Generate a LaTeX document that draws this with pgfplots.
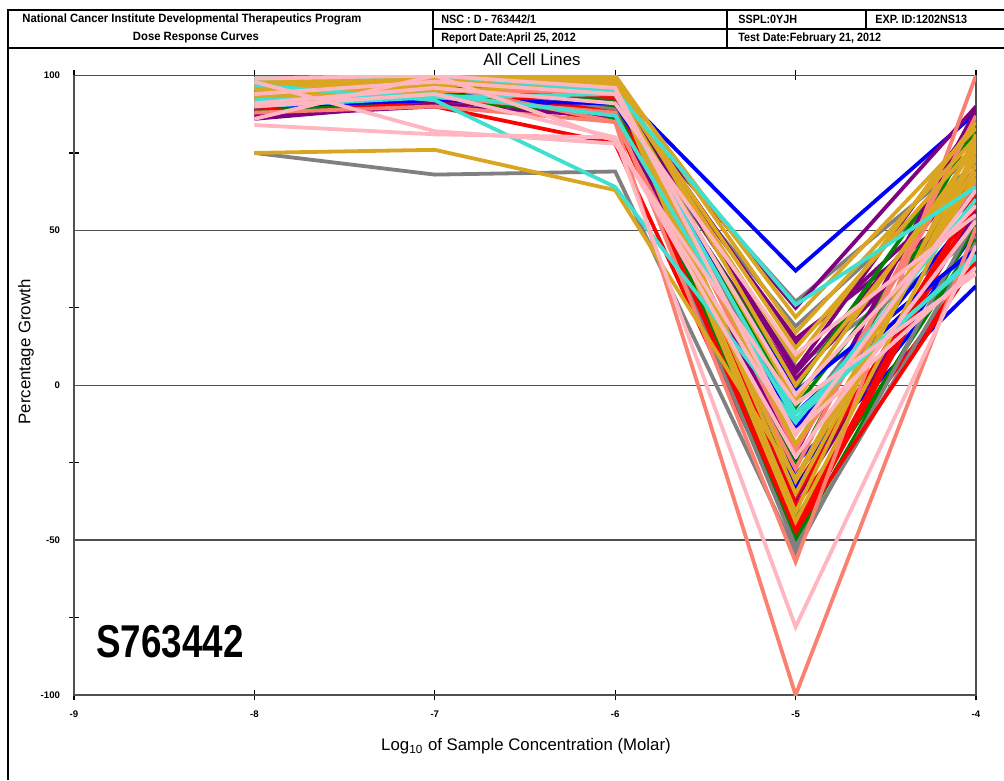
\documentclass[border=0pt]{standalone}
\usepackage{pgfplots}
\pgfplotsset{compat=1.18}
\usepackage{fontspec}
\setmainfont{Liberation Sans}
\usepackage{graphicx}
\definecolor{cblue}{HTML}{0000FF}
\definecolor{cgray}{HTML}{808080}
\definecolor{cturq}{HTML}{40E0D0}
\definecolor{cpurple}{HTML}{800080}
\definecolor{cgold}{HTML}{DAA520}
\definecolor{cgreen}{HTML}{008000}
\definecolor{cred}{HTML}{FF0000}
\definecolor{cpink}{HTML}{FFB6C1}
\definecolor{csalmon}{HTML}{FA8072}
\definecolor{axc}{HTML}{505050}
\begin{document}
\begin{tikzpicture}[x=1pt,y=1pt]
\useasboundingbox (0,0) rectangle (502,390);
% header frame
\draw[line width=1.3pt] (4,0) -- (4,385) -- (503,385);
\draw[line width=1.3pt] (4,366) -- (503,366);
\draw[line width=1.3pt] (216.5,375.5) -- (503,375.5);
\draw[line width=1.3pt] (216.5,366) -- (216.5,385);
\draw[line width=1.3pt] (363.5,366) -- (363.5,385);
\draw[line width=1.3pt] (433,375.5) -- (433,385);
\node[anchor=west,inner sep=0] at (11,380.5) {\scalebox{0.94}[1]{\fontsize{6}{7}\selectfont\bfseries National Cancer Institute Developmental Therapeutics Program}};
\node[inner sep=0] at (98,371) {\scalebox{0.94}[1]{\fontsize{6}{7}\selectfont\bfseries Dose Response Curves}};
\node[anchor=west,inner sep=0] at (220.5,380.5) {\scalebox{0.9}[1]{\fontsize{6}{7}\selectfont\bfseries NSC : D - 763442/1}};
\node[anchor=west,inner sep=0] at (220.5,371) {\scalebox{0.9}[1]{\fontsize{6}{7}\selectfont\bfseries Report Date:April 25, 2012}};
\node[anchor=west,inner sep=0] at (369,380.5) {\scalebox{0.9}[1]{\fontsize{6}{7}\selectfont\bfseries SSPL:0YJH}};
\node[anchor=west,inner sep=0] at (437.5,380.5) {\scalebox{0.9}[1]{\fontsize{6}{7}\selectfont\bfseries EXP. ID:1202NS13}};
\node[anchor=west,inner sep=0] at (369,371) {\scalebox{0.9}[1]{\fontsize{6}{7}\selectfont\bfseries Test Date:February 21, 2012}};
\begin{axis}[
  at={(37pt,42.5pt)}, anchor=south west,
  scale only axis, width=451pt, height=309.75pt,
  xmin=-9, xmax=-4, ymin=-100, ymax=100,
  axis line style={axc, line width=0.8pt},
  xtick={-9,-8,-7,-6,-5,-4},
  xticklabels={-9,-8,-7,-6,-5,-4},
  ytick={-100,-50,0,50,100},
  yticklabels={-100,-50,0,50,100},
  minor ytick={-75,-25,25,75},
  xtick pos=both, ytick pos=left,
  tick align=center,
  major tick length=5pt, minor tick length=5pt,
  every tick/.style={black, line width=0.6pt},
  ymajorgrids, grid style={axc, line width=0.7pt},
  major y tick style={draw=none},
  ticklabel style={font=\fontsize{4.8}{5}\selectfont\bfseries},
  yticklabel style={xshift=-1pt},
  xticklabel style={yshift=-2pt},
  every axis plot/.append style={line width=1.9pt, line join=miter, mark=none},
]
\addplot[cblue] coordinates {(-8,97)(-7,99)(-6,96)(-5,37)(-4,88)};
\addplot[cgray] coordinates {(-8,95)(-7,97)(-6,92)(-5,27)(-4,75)};
\addplot[cpurple] coordinates {(-8,93)(-7,96)(-6,94)(-5,25)(-4,90)};
\addplot[cgray] coordinates {(-8,92)(-7,94)(-6,90)(-5,19)(-4,72)};
\addplot[cpurple] coordinates {(-8,90)(-7,95)(-6,93)(-5,15)(-4,60)};
\addplot[cpurple] coordinates {(-8,94)(-7,97)(-6,97)(-5,13.5)(-4,67)};
\addplot[cgray] coordinates {(-8,88)(-7,93)(-6,92)(-5,6)(-4,48)};
\addplot[cpurple] coordinates {(-8,96)(-7,98)(-6,95)(-5,4)(-4,70)};
\addplot[cpurple] coordinates {(-8,86)(-7,91)(-6,89)(-5,2)(-4,62)};
\addplot[cgreen] coordinates {(-8,93)(-7,96)(-6,92)(-5,-1)(-4,82)};
\addplot[cgreen] coordinates {(-8,97)(-7,99)(-6,97)(-5,-7)(-4,68)};
\addplot[cblue] coordinates {(-8,89)(-7,93)(-6,88)(-5,-9)(-4,45)};
\addplot[cgray] coordinates {(-8,95)(-7,97)(-6,93)(-5,-12)(-4,65)};
\addplot[cblue] coordinates {(-8,91)(-7,95)(-6,90)(-5,-14)(-4,57)};
\addplot[cblue] coordinates {(-8,94)(-7,96)(-6,91)(-5,-25)(-4,32)};
\addplot[cblue] coordinates {(-8,92)(-7,94)(-6,89)(-5,-29)(-4,43)};
\addplot[cred] coordinates {(-8,91)(-7,96)(-6,90)(-5,-33)(-4,57)};
\addplot[cblue] coordinates {(-8,95)(-7,97)(-6,94)(-5,-33)(-4,50)};
\addplot[cpurple] coordinates {(-8,89)(-7,92)(-6,87)(-5,-37)(-4,56)};
\addplot[cred] coordinates {(-8,92)(-7,95)(-6,85)(-5,-39)(-4,40)};
\addplot[cgreen] coordinates {(-8,90)(-7,94)(-6,90)(-5,-43)(-4,47)};
\addplot[cred] coordinates {(-8,87)(-7,92)(-6,88)(-5,-46)(-4,62)};
\addplot[cred] coordinates {(-8,89)(-7,90)(-6,78)(-5,-48)(-4,59)};
\addplot[cgreen] coordinates {(-8,95)(-7,97)(-6,91)(-5,-50)(-4,52)};
\addplot[cgray] coordinates {(-8,93)(-7,96)(-6,89)(-5,-52)(-4,46)};
\addplot[cgray] coordinates {(-8,75)(-7,68)(-6,69)(-5,-54)(-4,54)};
\addplot[cgreen] coordinates {(-8,88)(-7,93)(-6,86)(-5,-26)(-4,84)};
\addplot[cred] coordinates {(-8,93)(-7,96)(-6,93)(-5,-36)(-4,61)};
\addplot[cred] coordinates {(-8,94)(-7,97)(-6,88)(-5,-47)(-4,40)};
\addplot[cpurple] coordinates {(-8,98)(-7,99)(-6,97)(-5,5)(-4,86)};
\addplot[cpurple] coordinates {(-8,87)(-7,90)(-6,87)(-5,-22)(-4,89)};
\addplot[cblue] coordinates {(-8,90)(-7,92)(-6,91)(-5,-2)(-4,44)};
\addplot[csalmon] coordinates {(-8,96)(-7,98)(-6,97)(-5,-20)(-4,66)};
\addplot[csalmon] coordinates {(-8,93)(-7,95)(-6,95)(-5,-21)(-4,79)};
\addplot[csalmon] coordinates {(-8,88)(-7,90)(-6,85)(-5,-27)(-4,87)};
\addplot[csalmon] coordinates {(-8,91)(-7,93)(-6,88)(-5,-57)(-4,100)};
\addplot[csalmon] coordinates {(-8,96)(-7,97)(-6,85)(-5,-100)(-4,51)};
\addplot[cgold] coordinates {(-8,96)(-7,98)(-6,99)(-5,22)(-4,83)};
\addplot[cgold] coordinates {(-8,98)(-7,100)(-6,100)(-5,17)(-4,80)};
\addplot[cgold] coordinates {(-8,97)(-7,99)(-6,98)(-5,12)(-4,78)};
\addplot[cgold] coordinates {(-8,95)(-7,98)(-6,97)(-5,8)(-4,85)};
\addplot[cgold] coordinates {(-8,99)(-7,100)(-6,100)(-5,0)(-4,73)};
\addplot[cgold] coordinates {(-8,92)(-7,97)(-6,96)(-5,-5)(-4,77)};
\addplot[cgold] coordinates {(-8,96)(-7,99)(-6,98)(-5,-31)(-4,71)};
\addplot[cgold] coordinates {(-8,93)(-7,98)(-6,99)(-5,-35)(-4,74)};
\addplot[cgold] coordinates {(-8,97)(-7,100)(-6,99)(-5,-41)(-4,81)};
\addplot[cgold] coordinates {(-8,94)(-7,97)(-6,96)(-5,-44)(-4,69)};
\addplot[cgold] coordinates {(-8,75)(-7,76)(-6,63)(-5,-30)(-4,76)};
\addplot[cgold] coordinates {(-8,91)(-7,95)(-6,97)(-5,-19)(-4,67)};
\addplot[cturq] coordinates {(-8,99)(-7,100)(-6,95)(-5,26)(-4,64)};
\addplot[cturq] coordinates {(-8,92)(-7,94)(-6,87)(-5,-11)(-4,42)};
\addplot[cturq] coordinates {(-8,97)(-7,92)(-6,64)(-5,-12)(-4,60)};
\addplot[cturq] coordinates {(-8,90)(-7,93)(-6,94)(-5,-9)(-4,41)};
\addplot[cpink] coordinates {(-8,91)(-7,96)(-6,91)(-5,10)(-4,55)};
\addplot[cpink] coordinates {(-8,94)(-7,98)(-6,94)(-5,-3)(-4,58)};
\addplot[cpink] coordinates {(-8,99)(-7,100)(-6,96)(-5,-16)(-4,63)};
\addplot[cpink] coordinates {(-8,90)(-7,94)(-6,80)(-5,-23)(-4,53)};
\addplot[cpink] coordinates {(-8,86)(-7,100)(-6,79)(-5,-15)(-4,38)};
\addplot[cpink] coordinates {(-8,98)(-7,82)(-6,78)(-5,-6)(-4,36)};
\addplot[cpink] coordinates {(-8,84)(-7,81)(-6,80)(-5,-78)(-4,45)};
\end{axis}
\node at (266,360) {\fontsize{8.4}{10}\selectfont All Cell Lines};
\node[rotate=90] at (13,214) {\fontsize{8.4}{10}\selectfont Percentage Growth};
\node at (263,17) {\fontsize{8.4}{10}\selectfont Log\textsubscript{10} of Sample Concentration (Molar)};
\node at (85,69) {\scalebox{0.8}[1]{\fontsize{23}{26}\selectfont\bfseries S763442}};
\end{tikzpicture}
\end{document}
